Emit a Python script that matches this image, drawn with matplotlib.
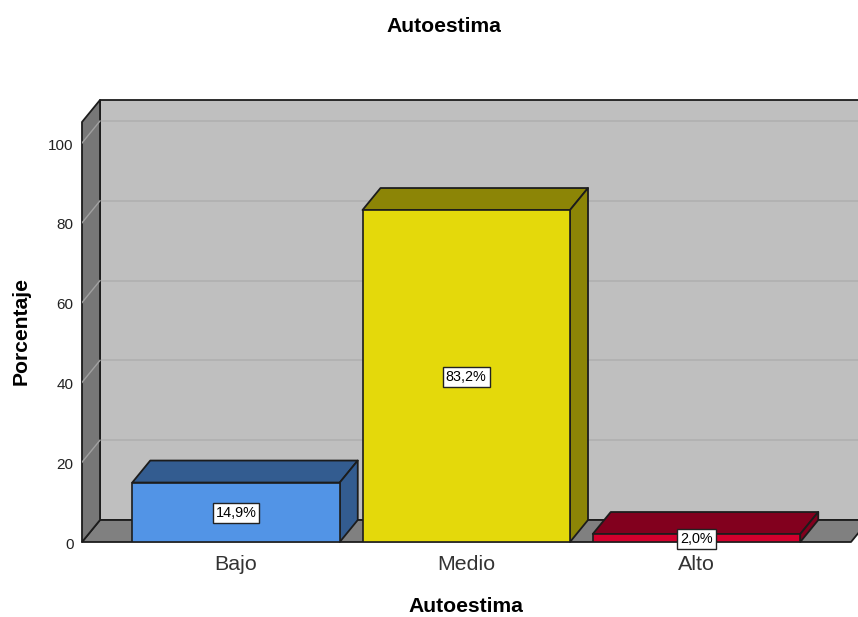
import matplotlib
matplotlib.use("Agg")
import matplotlib.pyplot as plt
from matplotlib.patches import Polygon
from matplotlib.transforms import ScaledTranslation

plt.rcParams['font.family'] = ['Liberation Sans', 'DejaVu Sans']

categories = ["Bajo", "Medio", "Alto"]
values = [14.9, 83.2, 2.0]
labels = ["14,9%", "83,2%", "2,0%"]
front_colors = ["#5294E6", "#E4D90B", "#D3002D"]
dark_colors = ["#335C90", "#8C8506", "#82001E"]
y_ticks = [0, 20, 40, 60, 80, 100]

W, H = 858, 617
fig = plt.figure(figsize=(W / 100, H / 100), dpi=100, facecolor="white")
ax = fig.add_axes([82 / W, (H - 542) / H, (W - 82) / W, 442 / H])
px_x = 230.25
px_y = 3.99
ax.set_xlim(-154 / px_x, (858 - 236) / px_x)
ax.set_ylim(0, 442 / px_y)
ax.patch.set_visible(False)
for s in ax.spines.values():
    s.set_visible(False)

dx = 18 / px_x
dy = 22 / px_y
x0 = -154 / px_x
x1 = (851 - 236) / px_x
top = 420 / px_y
edge = "#1c1c1c"


def poly(pts, fc, ec=edge, lw=1.3, z=1):
    ax.add_patch(Polygon(pts, closed=True, facecolor=fc, edgecolor=ec,
                         linewidth=lw, zorder=z, clip_on=False, joinstyle="round"))


poly([(x0 + dx, dy), (x1 + dx, dy), (x1 + dx, top + dy), (x0 + dx, top + dy)], "#BFBFBF", z=1)
poly([(x0, 0), (x1, 0), (x1 + dx, dy), (x0 + dx, dy)], "#808080", z=1.5)
poly([(x0, 0), (x0 + dx, dy), (x0 + dx, top + dy), (x0, top)], "#777777", z=1.5)
for t in y_ticks[1:]:
    ax.plot([x0 + dx, x1 + dx], [t + dy, t + dy], color="#B0B0B0", lw=1.2, zorder=1.2,
            solid_capstyle="butt", clip_on=True)
    ax.plot([x0, x0 + dx], [t, t + dy], color="#A0A0A0", lw=1.0, zorder=1.6)

width = 207.5 / px_x
bars = ax.bar(range(len(values)), values, width=width, color=front_colors,
              edgecolor=edge, linewidth=1.2, zorder=4)
label_shift = ax.transData + ScaledTranslation(0, -1 / 100, fig.dpi_scale_trans)
for i, v in enumerate(values):
    l = i - width / 2
    r = i + width / 2
    poly([(l, v), (r, v), (r + dx, v + dy), (l + dx, v + dy)], dark_colors[i], z=3)
    poly([(r, 0), (r + dx, dy), (r + dx, v + dy), (r, v)], dark_colors[i], z=3)
    ax.text(i, v / 2, labels[i], ha="center", va="center", fontsize=10.4, color="black", zorder=6,
            transform=label_shift,
            bbox=dict(boxstyle="square,pad=0.2", facecolor="white", edgecolor="#222222", linewidth=1))

ax.set_xticks(range(len(categories)))
ax.set_xticklabels(categories, fontsize=15.4, color="#333333")
ax.set_yticks(y_ticks)
ax.set_yticklabels([str(t) for t in y_ticks], fontsize=11, color="#222222")
ax.tick_params(axis="both", length=0)
ax.tick_params(axis="x", pad=9)
ax.tick_params(axis="y", pad=6)
tick_shift = ScaledTranslation(0, -1.2 / 100, fig.dpi_scale_trans)
for lab in ax.get_yticklabels():
    lab.set_transform(lab.get_transform() + tick_shift)

fig.text(444 / W, 1 - 26 / H, "Autoestima", ha="center", va="center", fontsize=15.2, fontweight="bold")
fig.text(465.5 / W, 1 - 606 / H, "Autoestima", ha="center", va="center", fontsize=15.2, fontweight="bold")
fig.text(21 / W, 1 - 331 / H, "Porcentaje", ha="center", va="center", rotation=90,
         fontsize=15.2, fontweight="bold")

fig.savefig("out.png", dpi=100)
